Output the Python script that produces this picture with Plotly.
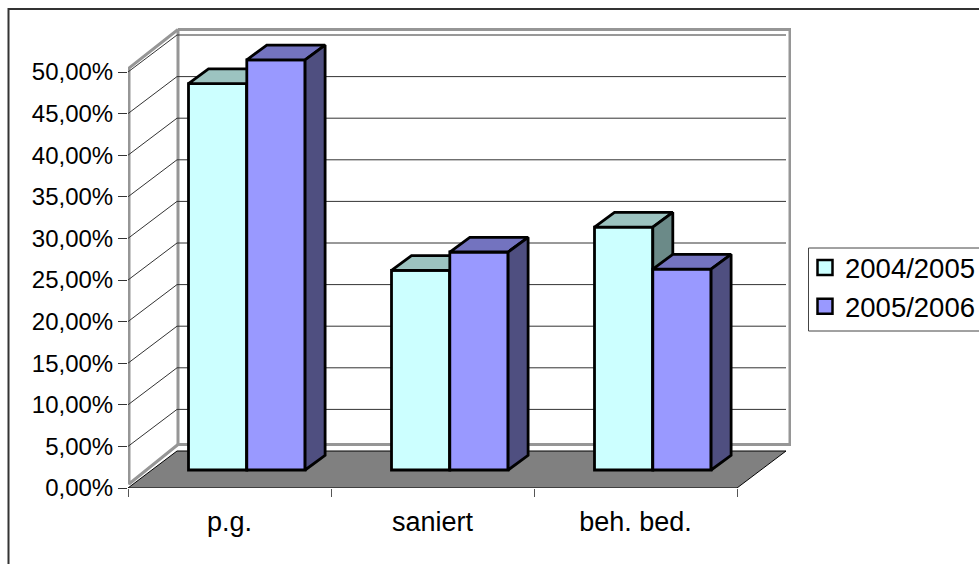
import plotly.graph_objects as go

# ---- data ----
categories = ["p.g.", "saniert", "beh. bed."]
series_names = ["2004/2005", "2005/2006"]
values_2004 = [46.45, 24.0, 29.2]
values_2005 = [49.3, 26.2, 24.15]
y_ticks = [0, 5, 10, 15, 20, 25, 30, 35, 40, 45, 50]
y_tick_labels = ["0,00%", "5,00%", "10,00%", "15,00%", "20,00%", "25,00%", "30,00%", "35,00%", "40,00%", "45,00%", "50,00%"]

# ---- geometry / style ----
W, H = 979, 564
L, R, T, B = 128, 791, 25, 488      # plot area in pixels
PX_X = 203.0     # px per category
PX_Y = 8.32      # px per percent
X = lambda px: (px - L) / PX_X
Y = lambda py: (B - py) / PX_Y
xr = [0, X(R)]
yr = [0, Y(T)]
WALL_DX, WALL_DY = 49 / PX_X, 37 / PX_Y
BAR_DX, BAR_DY = 20 / PX_X, 14.7 / PX_Y
BAR_BASE = 18 / PX_Y
BAR_W = 58.3 / PX_X
BAR_OFF = 60.5 / PX_X
FONT = "Liberation Sans, Arial, sans-serif"
EDGE = "#000000"
GREY = "#969696"
EDGE_W = 2.8
colors = [("#CCFFFF", "#9CC3C0", "#6B8A88"), ("#9999FF", "#7373BF", "#4F4F80")]

fig = go.Figure()


def poly(xs, ys, fill=None, color=EDGE, width=1.0, axes=("x", "y"), clip=False):
    fig.add_trace(go.Scatter(
        x=xs, y=ys, mode="lines", showlegend=False, hoverinfo="skip",
        fill="toself" if fill else "none", fillcolor=fill,
        line=dict(color=color, width=width), cliponaxis=clip,
        xaxis=axes[0], yaxis=axes[1]))


# walls
poly([X(178), X(790), X(790), X(178), X(178)], [Y(29.5), Y(29.5), Y(444.5), Y(444.5), Y(29.5)], color=GREY, width=3)
poly([X(178), X(129), X(129), X(178)], [Y(29.5), Y(68), Y(484), Y(444.5)], color=GREY, width=3)

# gridlines on walls, drawn from the axis ticks
for v in y_ticks[1:]:
    poly([0, WALL_DX, 3 + WALL_DX], [v, v + WALL_DY, v + WALL_DY], color="#333333", width=1)

# floor
poly([0, WALL_DX, 3 + WALL_DX, 3, 0], [0, WALL_DY, WALL_DY, 0, 0], fill="#808080", color=EDGE, width=1)

# bars: one overlaid axis pair per series so later series hide earlier ones
for s, vals in enumerate([values_2004, values_2005]):
    ax = ("x%d" % (s + 2), "y%d" % (s + 2))
    front, top, side = colors[s]
    lefts = [i + BAR_OFF + s * BAR_W for i in range(len(categories))]
    fig.add_trace(go.Bar(
        x=[l + BAR_W / 2 for l in lefts], y=vals, base=BAR_BASE, width=BAR_W, showlegend=False,
        marker=dict(color=front, line=dict(color=EDGE, width=EDGE_W)), hoverinfo="skip",
        xaxis=ax[0], yaxis=ax[1]))
    for l, v in zip(lefts, vals):
        h = BAR_BASE + v
        r = l + BAR_W
        poly([l, l + BAR_DX, r + BAR_DX, r, l], [h, h + BAR_DY, h + BAR_DY, h, h], fill=top, width=EDGE_W, axes=ax)
        poly([r, r + BAR_DX, r + BAR_DX, r, r], [h, h + BAR_DY, BAR_BASE + BAR_DY, BAR_BASE, h], fill=side, width=EDGE_W, axes=ax)
    # legend entry with the larger square swatch
    fig.add_trace(go.Scatter(
        x=[None], y=[None], mode="markers", name=series_names[s], hoverinfo="skip",
        marker=dict(symbol="square", size=15, color=front, line=dict(color=EDGE, width=2.5)),
        xaxis=ax[0], yaxis=ax[1]))

overlay = dict(visible=False, fixedrange=True)
PAPER_X = lambda px: (px - L) / (R - L)
PAPER_Y = lambda py: (B - py) / (B - T)
fig.update_layout(
    width=W, height=H, autosize=False,
    margin=dict(l=L, r=W - R, t=T, b=H - B, pad=0, autoexpand=False),
    paper_bgcolor="white", plot_bgcolor="white",
    font=dict(family=FONT, size=24, color="black"),
    barmode="overlay",
    shapes=[dict(type="rect", xref="paper", yref="paper", layer="below",
                 x0=PAPER_X(8.5), x1=PAPER_X(990), y0=PAPER_Y(9), y1=PAPER_Y(575),
                 line=dict(color="#333333", width=2), fillcolor="rgba(0,0,0,0)"),
            dict(type="rect", xref="paper", yref="paper", layer="below",
                 x0=PAPER_X(808.5), x1=PAPER_X(990), y0=PAPER_Y(248), y1=PAPER_Y(331),
                 line=dict(color="#444444", width=1), fillcolor="white")],
    xaxis=dict(range=xr, fixedrange=True, showgrid=False, zeroline=False, showline=False,
               tickmode="array", tickvals=[0.5, 1.5, 2.5], ticktext=categories, ticks="", ticklabelstandoff=15,
               tickfont=dict(size=27),
               minor=dict(tickmode="array", tickvals=[0, 1, 2, 3], ticks="outside", ticklen=8, tickcolor="#555555", tickwidth=1, showgrid=False)),
    yaxis=dict(range=yr, fixedrange=True, showgrid=False, zeroline=False, showline=False,
               tickmode="array", tickvals=y_ticks, ticktext=y_tick_labels, ticks="outside", ticklen=9,
               tickcolor="#333333", tickwidth=1, tickfont=dict(size=24)),
    xaxis2=dict(overlay, overlaying="x", range=xr, anchor="y2"),
    yaxis2=dict(overlay, overlaying="y", range=yr, anchor="x2"),
    xaxis3=dict(overlay, overlaying="x", range=xr, anchor="y3"),
    yaxis3=dict(overlay, overlaying="y", range=yr, anchor="x3"),
    legend=dict(x=PAPER_X(811), xanchor="left", y=PAPER_Y(243), yanchor="top",
                bgcolor="rgba(0,0,0,0)", borderwidth=0, indentation=-6,
                font=dict(size=27.5), itemclick=False, itemdoubleclick=False, traceorder="normal"),
    showlegend=True,
)

fig.write_html("out.html", config=dict(displayModeBar=False),
               post_script="document.body.style.margin='0';document.body.style.overflow='hidden';")
